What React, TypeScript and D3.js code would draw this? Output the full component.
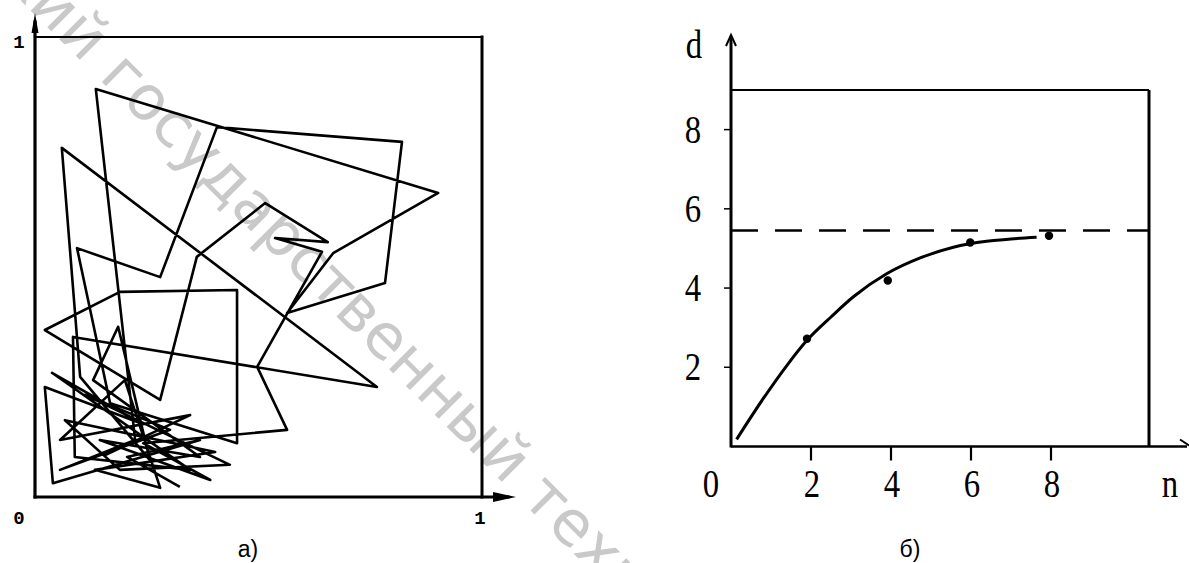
import React from 'react';
import * as d3 from 'd3';

// ---- panel a) random walk in the unit square ----
const walkX = [0.324, 0.206, 0.369, 0.040, 0.022, 0.235, 0.038, 0.347, 0.089, 0.085, 0.765, 0.060, 0.101, 0.257, 0.186, 0.130, 0.369, 0.145, 0.392, 0.242, 0.564, 0.497, 0.642, 0.537, 0.655, 0.515, 0.362, 0.280, 0.022, 0.190, 0.452, 0.452, 0.168, 0.094, 0.280, 0.407, 0.821, 0.783, 0.564, 0.667, 0.902, 0.136, 0.224, 0.056, 0.302, 0.112, 0.436, 0.190, 0.067, 0.403, 0.134, 0.280, 0.201, 0.056, 0.347, 0.157];
const walkY = [0.022, 0.087, 0.124, 0.030, 0.239, 0.161, 0.270, 0.059, 0.087, 0.348, 0.239, 0.759, 0.261, 0.080, 0.370, 0.254, 0.087, 0.124, 0.037, 0.117, 0.146, 0.283, 0.533, 0.563, 0.554, 0.639, 0.522, 0.211, 0.363, 0.446, 0.450, 0.117, 0.204, 0.541, 0.478, 0.804, 0.772, 0.465, 0.400, 0.530, 0.661, 0.887, 0.124, 0.059, 0.146, 0.222, 0.070, 0.059, 0.167, 0.098, 0.059, 0.020, 0.254, 0.124, 0.178, 0.091];
const unitTicks = ['0', '1'];

// ---- panel б) d(n) ----
const curveN = [0.14, 0.8, 1.4, 1.9, 2.5, 3.06, 3.89, 4.73, 5.56, 6.39, 7.0, 7.64];
const curveD = [0.18, 1.2, 2.05, 2.68, 3.27, 3.78, 4.36, 4.76, 5.03, 5.18, 5.24, 5.28];
const dotN = [1.9, 3.92, 5.98, 7.95];
const dotD = [2.72, 4.19, 5.15, 5.32];
const asymptoteD = 5.45;
const dTicks = [2, 4, 6, 8];
const nTicks = [2, 4, 6, 8];
const dBoxTop = 9;
const nBoxRight = 10.45;

const captions = ['а)', 'б)'];
const watermarkHead = 'Витебский';
const watermarkTail = 'государственный технологический университет';

export default function App() {
  // panel a scales
  const ax = d3.scaleLinear().domain([0, 1]).range([35, 482]);
  const ay = d3.scaleLinear().domain([0, 1]).range([497, 37]);
  const walk = walkX.map((x, i) => [x, walkY[i]] as [number, number]);
  const walkPath = d3.line<[number, number]>().x(d => ax(d[0])).y(d => ay(d[1]))(walk) || '';

  // panel b scales
  const bx = d3.scaleLinear().domain([0, nBoxRight]).range([731, 1149]);
  const by = d3.scaleLinear().domain([0, dBoxTop]).range([446.5, 90]);
  const curvePts = curveN.map((n, i) => [n, curveD[i]] as [number, number]);
  const curvePath = d3.line<[number, number]>().x(d => bx(d[0])).y(d => by(d[1])).curve(d3.curveMonotoneX)(curvePts) || '';

  const serif = "'Liberation Serif', 'DejaVu Serif', serif";
  const mono = "'Liberation Mono', 'DejaVu Sans Mono', monospace";
  const sans = "'Liberation Sans', Arial, sans-serif";
  const wmFont = "'DejaVu Sans', Verdana, sans-serif";

  const bx0 = bx(0), by0 = by(0);

  return (
    <svg width={1189} height={563} style={{ position: 'absolute', left: 0, top: 0, background: '#fff' }}>
      {/* watermark */}
      <text transform="translate(98,78) rotate(45)" fontFamily={wmFont} fontSize={62} fill="#c9c9c9">
        <tspan x={-20} textAnchor="end">{watermarkHead}</tspan>
        <tspan x={0} textAnchor="start">{watermarkTail}</tspan>
      </text>

      {/* ===== panel a ===== */}
      <g stroke="#000" fill="none" strokeLinecap="square">
        <line x1={ax(0)} y1={ay(1)} x2={ax(1)} y2={ay(1)} strokeWidth={2.2} />
        <line x1={ax(1)} y1={ay(1)} x2={ax(1)} y2={ay(0)} strokeWidth={3} />
        <line x1={ax(0)} y1={ay(0)} x2={508} y2={ay(0)} strokeWidth={3} />
        <line x1={ax(0)} y1={ay(0)} x2={ax(0)} y2={22} strokeWidth={3.2} />
      </g>
      <path d={`M${ax(0)},13 L${ax(0) - 3.5},33 L${ax(0) + 3.5},33 Z`} fill="#000" />
      <path d={`M516,${ay(0)} L493,${ay(0) - 5} L493,${ay(0) + 5} Z`} fill="#000" />
      <path d={walkPath} fill="none" stroke="#000" strokeWidth={2.6} strokeLinejoin="round" />
      <text x={19} y={48} fontFamily={mono} fontWeight="bold" fontSize={19} textAnchor="middle">{unitTicks[1]}</text>
      <text x={19} y={524} fontFamily={mono} fontWeight="bold" fontSize={19} textAnchor="middle">{unitTicks[0]}</text>
      <text x={480} y={524} fontFamily={mono} fontWeight="bold" fontSize={19} textAnchor="middle">{unitTicks[1]}</text>
      <text x={248} y={557} fontFamily={sans} fontSize={23} textAnchor="middle">{captions[0]}</text>

      {/* ===== panel b ===== */}
      <g stroke="#000" fill="none">
        <line x1={bx0} y1={by(dBoxTop)} x2={bx(nBoxRight)} y2={by(dBoxTop)} strokeWidth={2} />
        <line x1={bx(nBoxRight)} y1={by(dBoxTop)} x2={bx(nBoxRight)} y2={by0} strokeWidth={3} />
        <line x1={bx0} y1={by0} x2={1187} y2={by0} strokeWidth={2.5} />
        <line x1={bx0} y1={by0 + 1} x2={bx0} y2={38} strokeWidth={3} />
        <path d={`M${bx0 - 5},46 L${bx0},35 L${bx0 + 5},46`} strokeWidth={2} />
        <path d={`M1180,${by0 - 7} L1189,${by0 - 1}`} strokeWidth={2} />
        {dTicks.map(t => (
          <line key={'dt' + t} x1={bx0 - 7} y1={by(t)} x2={bx0} y2={by(t)} strokeWidth={1.5} />
        ))}
        {nTicks.map(t => (
          <line key={'nt' + t} x1={bx(t)} y1={by0} x2={bx(t)} y2={by0 + 14} strokeWidth={2.2} />
        ))}
        <line x1={bx0} y1={by(asymptoteD)} x2={bx(nBoxRight)} y2={by(asymptoteD)} strokeWidth={2.5} strokeDasharray="27 17" />
        <path d={curvePath} strokeWidth={3} />
      </g>
      {dotN.map((n, i) => (
        <circle key={'dot' + i} cx={bx(n)} cy={by(dotD[i])} r={4.2} fill="#000" />
      ))}
      {dTicks.map(t => (
        <text key={'dl' + t} transform={`translate(693,${by(t) + 13}) scale(0.82,1)`} fontFamily={serif} fontSize={40} textAnchor="middle">{t}</text>
      ))}
      <text transform="translate(694,58) scale(0.82,1)" fontFamily={serif} fontSize={40} textAnchor="middle">d</text>
      <text transform="translate(711,497) scale(0.82,1)" fontFamily={serif} fontSize={40} textAnchor="middle">0</text>
      {nTicks.map(t => (
        <text key={'nl' + t} transform={`translate(${bx(t) + 1},497) scale(0.82,1)`} fontFamily={serif} fontSize={40} textAnchor="middle">{t}</text>
      ))}
      <text transform="translate(1170,497) scale(0.82,1)" fontFamily={serif} fontSize={40} textAnchor="middle">n</text>
      <text x={910} y={557} fontFamily={sans} fontSize={23} textAnchor="middle">{captions[1]}</text>
    </svg>
  );
}
